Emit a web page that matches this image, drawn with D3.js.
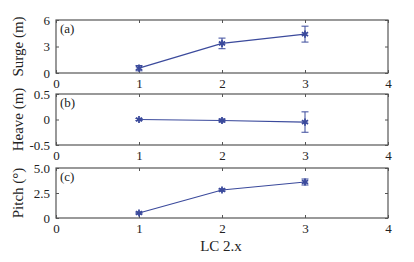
<!DOCTYPE html>
<html lang="en">
<head>
<meta charset="UTF-8">
<title>LC 2.x responses</title>
<script src="https://d3js.org/d3.v7.min.js"></script>
<style>
  body { margin: 0; background: #fff; }
  svg text { font-family: "Liberation Serif", "Times New Roman", serif; }
  .frame { fill: none; stroke: #555; stroke-width: 1.2; }
  .tick line { stroke: #555; }
  .domain { display: none; }
</style>
</head>
<body>
<div id="chart"></div>
<script>
  // data
  const cases = [1, 2, 3];
  const surge = [0.55, 3.35, 4.4];
  const surgeErr = [0.3, 0.6, 0.9];
  const heave = [0.0, -0.02, -0.05];
  const heaveErr = [0.02, 0.03, 0.2];
  const pitch = [0.5, 2.8, 3.6];
  const pitchErr = [0.08, 0.1, 0.3];

  const xTicks = [0, 1, 2, 3, 4];

  const panels = [
    {label: "(a)", ylab: "Surge (m)", vals: surge, err: surgeErr, dom: [0, 6], ticks: [0, 3, 6], fmt: d => d, top: 20, bottom: 73},
    {label: "(b)", ylab: "Heave (m)", vals: heave, err: heaveErr, dom: [-0.5, 0.5], ticks: [-0.5, 0, 0.5], fmt: d => d, top: 94, bottom: 145},
    {label: "(c)", ylab: "Pitch (\u00b0)", vals: pitch, err: pitchErr, dom: [0, 5], ticks: [0, 2.5, 5], fmt: d => d === 0 ? "0" : d.toFixed(1), top: 168, bottom: 218}
  ];

  const W = 414, H = 262;
  const left = 56, right = 388;
  const color = "#3b4a9c";

  const svg = d3.select("#chart").append("svg")
    .attr("width", W).attr("height", H);

  const x = d3.scaleLinear().domain([0, 4]).range([left, right]);

  panels.forEach(p => {
    const y = d3.scaleLinear().domain(p.dom).range([p.bottom, p.top]);
    const g = svg.append("g");

    // inner ticks on all sides
    g.append("g").attr("transform", `translate(0,${p.bottom})`)
      .call(d3.axisBottom(x).tickValues(xTicks).tickSize(-3).tickPadding(6).tickFormat(d3.format("d")))
      .selectAll("text").style("font-size", "13px").attr("fill", "#222");
    g.append("g").attr("transform", `translate(0,${p.top})`)
      .call(d3.axisTop(x).tickValues(xTicks).tickSize(-3).tickFormat(""));
    g.append("g").attr("transform", `translate(${left},0)`)
      .call(d3.axisLeft(y).tickValues(p.ticks).tickSize(-3).tickPadding(6).tickFormat(p.fmt))
      .selectAll("text").style("font-size", "13px").attr("fill", "#222");
    g.append("g").attr("transform", `translate(${right},0)`)
      .call(d3.axisRight(y).tickValues(p.ticks).tickSize(-3).tickFormat(""));

    g.append("rect").attr("class", "frame")
      .attr("x", left).attr("y", p.top)
      .attr("width", right - left).attr("height", p.bottom - p.top);

    g.append("text")
      .attr("x", left + 4).attr("y", p.top + 13)
      .style("font-size", "13px").attr("fill", "#222")
      .text(p.label);

    g.append("text")
      .attr("transform", `translate(23,${(p.top + p.bottom) / 2}) rotate(-90)`)
      .attr("text-anchor", "middle")
      .style("font-size", "15px").attr("fill", "#222")
      .text(p.ylab);

    const pts = cases.map((c, i) => ({x: c, v: p.vals[i], e: p.err[i]}));

    g.append("path")
      .datum(pts)
      .attr("fill", "none").attr("stroke", color).attr("stroke-width", 1.2)
      .attr("d", d3.line().x(d => x(d.x)).y(d => y(d.v)));

    // error bars
    const eb = g.selectAll(".eb").data(pts).join("g").attr("class", "eb")
      .attr("stroke", color).attr("stroke-width", 1);
    eb.append("line")
      .attr("x1", d => x(d.x)).attr("x2", d => x(d.x))
      .attr("y1", d => y(d.v - d.e)).attr("y2", d => y(d.v + d.e));
    eb.append("line")
      .attr("x1", d => x(d.x) - 3.5).attr("x2", d => x(d.x) + 3.5)
      .attr("y1", d => y(d.v + d.e)).attr("y2", d => y(d.v + d.e));
    eb.append("line")
      .attr("x1", d => x(d.x) - 3.5).attr("x2", d => x(d.x) + 3.5)
      .attr("y1", d => y(d.v - d.e)).attr("y2", d => y(d.v - d.e));

    // asterisk markers
    g.selectAll(".mk").data(pts).join("path").attr("class", "mk")
      .attr("transform", d => `translate(${x(d.x)},${y(d.v)})`)
      .attr("d", d3.symbol(d3.symbolAsterisk, 36))
      .attr("stroke", color).attr("stroke-width", 1.8).attr("fill", "none");
  });

  svg.append("text")
    .attr("x", 221).attr("y", 251)
    .attr("text-anchor", "middle")
    .style("font-size", "15px").attr("fill", "#222")
    .text("LC 2.x");
</script>
</body>
</html>
